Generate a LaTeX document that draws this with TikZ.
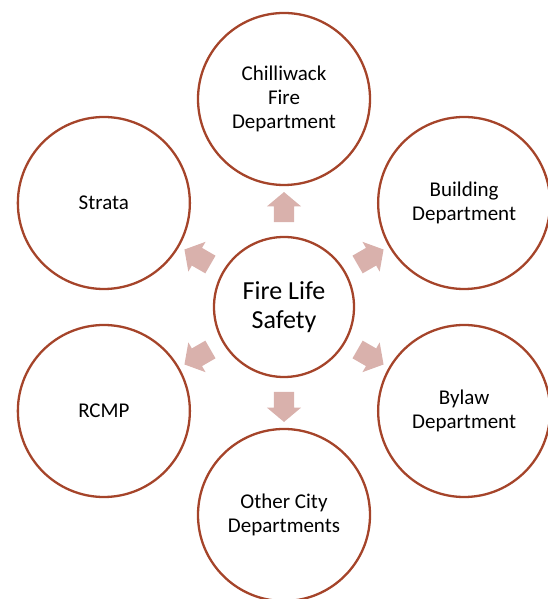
\documentclass[tikz,border=0pt]{standalone}
\usepackage{fontspec}
\setmainfont{Carlito}
\usetikzlibrary{shapes.arrows,calc}

\definecolor{rim}{HTML}{A5442A}
\definecolor{blush}{HTML}{D9B1AC}

\begin{document}
\begin{tikzpicture}[x=1pt, y=1pt,
		ring/.style={circle, draw=rim, line width=2.3pt, minimum size=172pt, align=center, font=\fontsize{21}{24}\selectfont},
		hub/.style={circle, draw=rim, line width=2.3pt, minimum size=140pt, align=center, font=\fontsize{26}{29}\selectfont},
		pointer/.style={single arrow, fill=blush, inner xsep=0pt, inner ysep=10pt, minimum height=30pt, single arrow head extend=7pt, single arrow tip angle=100}]
		\useasboundingbox (0, 0) rectangle (547, 599);
		\node[hub] (safety) at (284, 292) {Fire Life\\Safety};
		% the six partners round the hub
		\node[ring] (fire) at ($(safety)+(90:208)$) {Chilliwack\\Fire\\Department};
		\node[ring] (building) at ($(safety)+(30:208)$) {Building\\Department};
		\node[ring] (bylaw) at ($(safety)+(-30:208)$) {Bylaw\\Department};
		\node[ring] (city) at ($(safety)+(-90:208)$) {Other City\\Departments};
		\node[ring] (rcmp) at ($(safety)+(-150:208)$) {RCMP};
		\node[ring] (strata) at ($(safety)+(150:208)$) {Strata};
		% block arrows in the gaps
		\node[pointer, rotate=90] (toFire) at ($(safety)!0.46!(fire)$) {};
		\node[pointer, rotate=30] (toBuilding) at ($(safety)!0.46!(building)$) {};
		\node[pointer, rotate=-30] (toBylaw) at ($(safety)!0.46!(bylaw)$) {};
		\node[pointer, rotate=-90] (toCity) at ($(safety)!0.46!(city)$) {};
		\node[pointer, rotate=-150] (toRcmp) at ($(safety)!0.46!(rcmp)$) {};
		\node[pointer, rotate=150] (toStrata) at ($(safety)!0.46!(strata)$) {};
	\end{tikzpicture}
\end{document}
